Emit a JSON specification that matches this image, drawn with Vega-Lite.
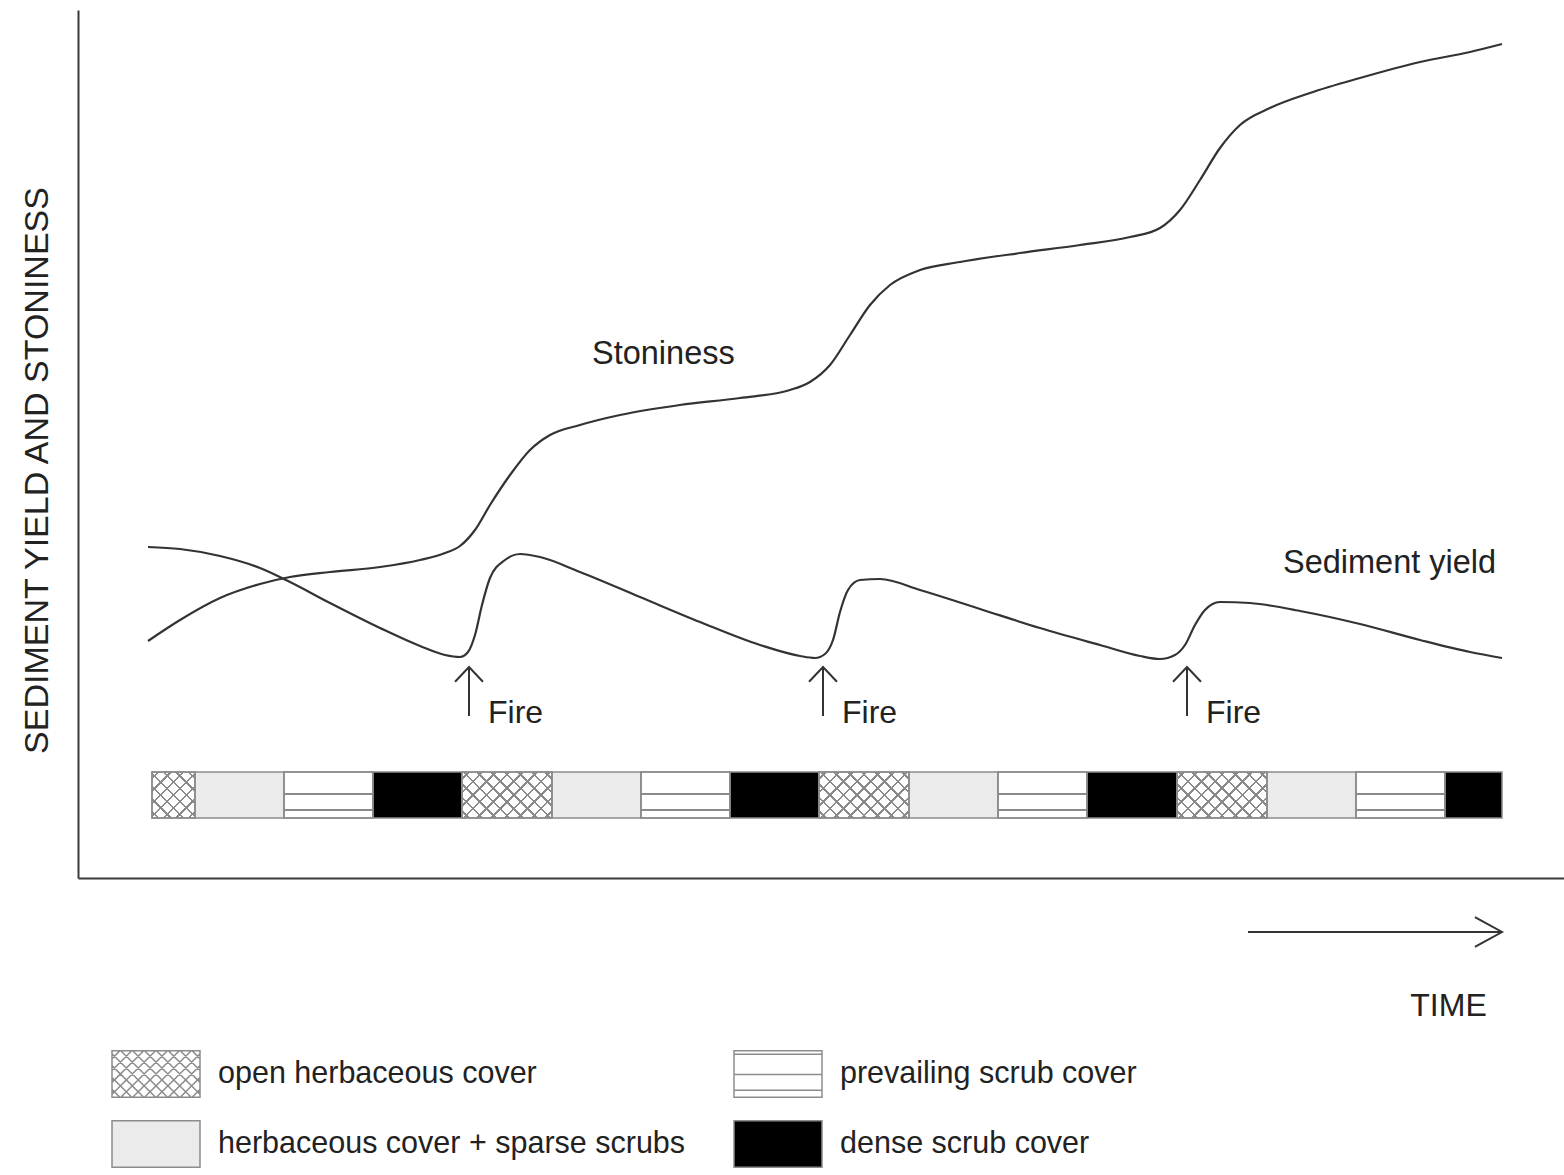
{
  "$schema": "https://vega.github.io/schema/vega-lite/v6.json",
  "width": 1486,
  "height": 868,
  "autosize": {"type": "none"},
  "padding": {"left": 78, "top": 10, "right": 0, "bottom": 297},
  "background": "white",
  "config": {
    "view": {"stroke": null},
    "axis": {"labels": false, "ticks": false, "grid": false, "domainColor": "#3a3a3a", "domainWidth": 2, "titleFont": "Liberation Sans", "titleFontWeight": "normal", "titleColor": "#222222"}
  },
  "datasets": {
    "curves": [
      {"t": 70, "value": 237, "series": "Stoniness"},
      {"t": 102, "value": 258, "series": "Stoniness"},
      {"t": 142, "value": 280, "series": "Stoniness"},
      {"t": 182, "value": 294, "series": "Stoniness"},
      {"t": 212, "value": 301, "series": "Stoniness"},
      {"t": 252, "value": 306, "series": "Stoniness"},
      {"t": 302, "value": 311, "series": "Stoniness"},
      {"t": 342, "value": 318, "series": "Stoniness"},
      {"t": 367, "value": 325, "series": "Stoniness"},
      {"t": 382, "value": 332, "series": "Stoniness"},
      {"t": 397, "value": 348, "series": "Stoniness"},
      {"t": 412, "value": 373, "series": "Stoniness"},
      {"t": 432, "value": 403, "series": "Stoniness"},
      {"t": 452, "value": 428, "series": "Stoniness"},
      {"t": 472, "value": 443, "series": "Stoniness"},
      {"t": 502, "value": 453, "series": "Stoniness"},
      {"t": 542, "value": 463, "series": "Stoniness"},
      {"t": 602, "value": 473, "series": "Stoniness"},
      {"t": 662, "value": 480, "series": "Stoniness"},
      {"t": 712, "value": 488, "series": "Stoniness"},
      {"t": 732, "value": 496, "series": "Stoniness"},
      {"t": 752, "value": 513, "series": "Stoniness"},
      {"t": 772, "value": 543, "series": "Stoniness"},
      {"t": 792, "value": 573, "series": "Stoniness"},
      {"t": 812, "value": 593, "series": "Stoniness"},
      {"t": 842, "value": 608, "series": "Stoniness"},
      {"t": 882, "value": 616, "series": "Stoniness"},
      {"t": 942, "value": 625, "series": "Stoniness"},
      {"t": 1002, "value": 633, "series": "Stoniness"},
      {"t": 1052, "value": 641, "series": "Stoniness"},
      {"t": 1082, "value": 650, "series": "Stoniness"},
      {"t": 1102, "value": 668, "series": "Stoniness"},
      {"t": 1122, "value": 698, "series": "Stoniness"},
      {"t": 1142, "value": 730, "series": "Stoniness"},
      {"t": 1162, "value": 753, "series": "Stoniness"},
      {"t": 1192, "value": 770, "series": "Stoniness"},
      {"t": 1232, "value": 785, "series": "Stoniness"},
      {"t": 1282, "value": 800, "series": "Stoniness"},
      {"t": 1342, "value": 816, "series": "Stoniness"},
      {"t": 1392, "value": 826, "series": "Stoniness"},
      {"t": 1424, "value": 834, "series": "Stoniness"},
      {"t": 70, "value": 331, "series": "Sediment yield"},
      {"t": 102, "value": 329, "series": "Sediment yield"},
      {"t": 142, "value": 322, "series": "Sediment yield"},
      {"t": 182, "value": 310, "series": "Sediment yield"},
      {"t": 212, "value": 296, "series": "Sediment yield"},
      {"t": 252, "value": 275, "series": "Sediment yield"},
      {"t": 302, "value": 250, "series": "Sediment yield"},
      {"t": 342, "value": 232, "series": "Sediment yield"},
      {"t": 367, "value": 223, "series": "Sediment yield"},
      {"t": 382, "value": 221, "series": "Sediment yield"},
      {"t": 390, "value": 226, "series": "Sediment yield"},
      {"t": 397, "value": 243, "series": "Sediment yield"},
      {"t": 404, "value": 273, "series": "Sediment yield"},
      {"t": 412, "value": 300, "series": "Sediment yield"},
      {"t": 427, "value": 318, "series": "Sediment yield"},
      {"t": 442, "value": 324, "series": "Sediment yield"},
      {"t": 462, "value": 321, "series": "Sediment yield"},
      {"t": 502, "value": 306, "series": "Sediment yield"},
      {"t": 562, "value": 281, "series": "Sediment yield"},
      {"t": 622, "value": 256, "series": "Sediment yield"},
      {"t": 682, "value": 233, "series": "Sediment yield"},
      {"t": 722, "value": 222, "series": "Sediment yield"},
      {"t": 737, "value": 220, "series": "Sediment yield"},
      {"t": 747, "value": 224, "series": "Sediment yield"},
      {"t": 755, "value": 238, "series": "Sediment yield"},
      {"t": 762, "value": 266, "series": "Sediment yield"},
      {"t": 770, "value": 288, "series": "Sediment yield"},
      {"t": 782, "value": 298, "series": "Sediment yield"},
      {"t": 802, "value": 299, "series": "Sediment yield"},
      {"t": 842, "value": 288, "series": "Sediment yield"},
      {"t": 902, "value": 269, "series": "Sediment yield"},
      {"t": 962, "value": 250, "series": "Sediment yield"},
      {"t": 1022, "value": 233, "series": "Sediment yield"},
      {"t": 1062, "value": 222, "series": "Sediment yield"},
      {"t": 1082, "value": 219, "series": "Sediment yield"},
      {"t": 1097, "value": 223, "series": "Sediment yield"},
      {"t": 1107, "value": 233, "series": "Sediment yield"},
      {"t": 1117, "value": 253, "series": "Sediment yield"},
      {"t": 1127, "value": 268, "series": "Sediment yield"},
      {"t": 1142, "value": 276, "series": "Sediment yield"},
      {"t": 1172, "value": 275, "series": "Sediment yield"},
      {"t": 1222, "value": 267, "series": "Sediment yield"},
      {"t": 1282, "value": 254, "series": "Sediment yield"},
      {"t": 1342, "value": 238, "series": "Sediment yield"},
      {"t": 1392, "value": 226, "series": "Sediment yield"},
      {"t": 1424, "value": 220, "series": "Sediment yield"}
    ],
    "strip": [
      {"start": 74, "end": 117, "cover": "open herbaceous cover"},
      {"start": 117, "end": 206, "cover": "herbaceous cover + sparse scrubs"},
      {"start": 206, "end": 295, "cover": "prevailing scrub cover"},
      {"start": 295, "end": 384, "cover": "dense scrub cover"},
      {"start": 384, "end": 474, "cover": "open herbaceous cover"},
      {"start": 474, "end": 563, "cover": "herbaceous cover + sparse scrubs"},
      {"start": 563, "end": 652, "cover": "prevailing scrub cover"},
      {"start": 652, "end": 741, "cover": "dense scrub cover"},
      {"start": 741, "end": 831, "cover": "open herbaceous cover"},
      {"start": 831, "end": 920, "cover": "herbaceous cover + sparse scrubs"},
      {"start": 920, "end": 1009, "cover": "prevailing scrub cover"},
      {"start": 1009, "end": 1099, "cover": "dense scrub cover"},
      {"start": 1099, "end": 1189, "cover": "open herbaceous cover"},
      {"start": 1189, "end": 1278, "cover": "herbaceous cover + sparse scrubs"},
      {"start": 1278, "end": 1367, "cover": "prevailing scrub cover"},
      {"start": 1367, "end": 1424, "cover": "dense scrub cover"}
    ],
    "fires": [
      {"time": 391, "event": "Fire"},
      {"time": 745, "event": "Fire"},
      {"time": 1109, "event": "Fire"}
    ]
  },
  "layer": [
    {
      "data": {"name": "strip"},
      "mark": {"type": "rect", "stroke": "#8c8c8c", "strokeWidth": 1.5},
      "encoding": {
        "x": {"field": "start", "type": "quantitative", "scale": {"domain": [0, 1486], "nice": false, "zero": false}, "axis": {"title": "TIME", "titleFontSize": 32, "titleX": 1370, "titleY": 137, "titleAlign": "center", "titleBaseline": "alphabetic"}},
        "x2": {"field": "end"},
        "y": {"datum": 60, "type": "quantitative", "scale": {"domain": [0, 868], "nice": false, "zero": false}, "axis": {"title": "SEDIMENT YIELD AND STONINESS", "titleFontSize": 34, "titleX": -31, "titleY": 460, "titleAngle": -90, "titleAlign": "center", "titleBaseline": "alphabetic"}},
        "y2": {"datum": 106},
        "fill": {
          "field": "cover", "type": "nominal",
          "scale": {"domain": ["open herbaceous cover", "herbaceous cover + sparse scrubs", "prevailing scrub cover", "dense scrub cover"], "range": ["#ffffff", "#ebebeb", "#ffffff", "#000000"]},
          "legend": {"title": null, "orient": "none", "legendX": 33, "legendY": 1039, "columns": 2, "columnPadding": 47, "rowPadding": 20, "clipHeight": 50, "symbolSize": 7744, "symbolStrokeColor": "#8c8c8c", "symbolStrokeWidth": 1.5, "symbolOpacity": 1, "labelFont": "Liberation Sans", "labelFontSize": 30.5, "labelColor": "#222222", "labelOffset": 17, "labelLimit": 1000, "padding": 0}
        }
      }
    },
    {
      "data": {"name": "strip"},
      "transform": [{"filter": "datum.cover == 'prevailing scrub cover'"}],
      "mark": {"type": "rect", "stroke": "#8c8c8c", "strokeWidth": 1.5,
        "fill": {"gradient": "linear", "x1": 0, "y1": 0, "x2": 0, "y2": 1, "stops": [
          {"offset": 0, "color": "rgba(255,255,255,0)"},
          {"offset": 0.456, "color": "rgba(255,255,255,0)"}, {"offset": 0.456, "color": "#8a8a8a"}, {"offset": 0.5, "color": "#8a8a8a"}, {"offset": 0.5, "color": "rgba(255,255,255,0)"},
          {"offset": 0.804, "color": "rgba(255,255,255,0)"}, {"offset": 0.804, "color": "#8a8a8a"}, {"offset": 0.848, "color": "#8a8a8a"}, {"offset": 0.848, "color": "rgba(255,255,255,0)"},
          {"offset": 1, "color": "rgba(255,255,255,0)"}
        ]}},
      "encoding": {"x": {"field": "start", "type": "quantitative"}, "x2": {"field": "end"}, "y": {"datum": 60}, "y2": {"datum": 106}}
    },
    {
      "data": {"name": "strip"},
      "transform": [{"filter": "datum.cover == 'open herbaceous cover' && datum.end - datum.start > 60"}],
      "mark": {"type": "rect", "strokeWidth": 0,
        "fill": {"gradient": "linear", "x1": 0, "y1": 0, "x2": 1.198, "y2": 0.612, "stops": [
          {"offset": 0, "color": "rgba(255,255,255,0)"},
          {"offset": 0.041, "color": "rgba(255,255,255,0)"}, {"offset": 0.041, "color": "#8a8a8a"}, {"offset": 0.059, "color": "#8a8a8a"}, {"offset": 0.059, "color": "rgba(255,255,255,0)"},
          {"offset": 0.141, "color": "rgba(255,255,255,0)"}, {"offset": 0.141, "color": "#8a8a8a"}, {"offset": 0.159, "color": "#8a8a8a"}, {"offset": 0.159, "color": "rgba(255,255,255,0)"},
          {"offset": 0.241, "color": "rgba(255,255,255,0)"}, {"offset": 0.241, "color": "#8a8a8a"}, {"offset": 0.259, "color": "#8a8a8a"}, {"offset": 0.259, "color": "rgba(255,255,255,0)"},
          {"offset": 0.341, "color": "rgba(255,255,255,0)"}, {"offset": 0.341, "color": "#8a8a8a"}, {"offset": 0.359, "color": "#8a8a8a"}, {"offset": 0.359, "color": "rgba(255,255,255,0)"},
          {"offset": 0.441, "color": "rgba(255,255,255,0)"}, {"offset": 0.441, "color": "#8a8a8a"}, {"offset": 0.459, "color": "#8a8a8a"}, {"offset": 0.459, "color": "rgba(255,255,255,0)"},
          {"offset": 0.541, "color": "rgba(255,255,255,0)"}, {"offset": 0.541, "color": "#8a8a8a"}, {"offset": 0.559, "color": "#8a8a8a"}, {"offset": 0.559, "color": "rgba(255,255,255,0)"},
          {"offset": 0.641, "color": "rgba(255,255,255,0)"}, {"offset": 0.641, "color": "#8a8a8a"}, {"offset": 0.659, "color": "#8a8a8a"}, {"offset": 0.659, "color": "rgba(255,255,255,0)"},
          {"offset": 0.741, "color": "rgba(255,255,255,0)"}, {"offset": 0.741, "color": "#8a8a8a"}, {"offset": 0.759, "color": "#8a8a8a"}, {"offset": 0.759, "color": "rgba(255,255,255,0)"},
          {"offset": 0.841, "color": "rgba(255,255,255,0)"}, {"offset": 0.841, "color": "#8a8a8a"}, {"offset": 0.859, "color": "#8a8a8a"}, {"offset": 0.859, "color": "rgba(255,255,255,0)"},
          {"offset": 0.941, "color": "rgba(255,255,255,0)"}, {"offset": 0.941, "color": "#8a8a8a"}, {"offset": 0.959, "color": "#8a8a8a"}, {"offset": 0.959, "color": "rgba(255,255,255,0)"},
          {"offset": 1, "color": "rgba(255,255,255,0)"}
        ]}},
      "encoding": {"x": {"field": "start", "type": "quantitative"}, "x2": {"field": "end"}, "y": {"datum": 60}, "y2": {"datum": 106}}
    },
    {
      "data": {"name": "strip"},
      "transform": [{"filter": "datum.cover == 'open herbaceous cover' && datum.end - datum.start > 60"}],
      "mark": {"type": "rect", "stroke": "#8c8c8c", "strokeWidth": 1.5,
        "fill": {"gradient": "linear", "x1": 0, "y1": 1, "x2": 1.198, "y2": 0.388, "stops": [
          {"offset": 0, "color": "rgba(255,255,255,0)"},
          {"offset": 0.041, "color": "rgba(255,255,255,0)"}, {"offset": 0.041, "color": "#8a8a8a"}, {"offset": 0.059, "color": "#8a8a8a"}, {"offset": 0.059, "color": "rgba(255,255,255,0)"},
          {"offset": 0.141, "color": "rgba(255,255,255,0)"}, {"offset": 0.141, "color": "#8a8a8a"}, {"offset": 0.159, "color": "#8a8a8a"}, {"offset": 0.159, "color": "rgba(255,255,255,0)"},
          {"offset": 0.241, "color": "rgba(255,255,255,0)"}, {"offset": 0.241, "color": "#8a8a8a"}, {"offset": 0.259, "color": "#8a8a8a"}, {"offset": 0.259, "color": "rgba(255,255,255,0)"},
          {"offset": 0.341, "color": "rgba(255,255,255,0)"}, {"offset": 0.341, "color": "#8a8a8a"}, {"offset": 0.359, "color": "#8a8a8a"}, {"offset": 0.359, "color": "rgba(255,255,255,0)"},
          {"offset": 0.441, "color": "rgba(255,255,255,0)"}, {"offset": 0.441, "color": "#8a8a8a"}, {"offset": 0.459, "color": "#8a8a8a"}, {"offset": 0.459, "color": "rgba(255,255,255,0)"},
          {"offset": 0.541, "color": "rgba(255,255,255,0)"}, {"offset": 0.541, "color": "#8a8a8a"}, {"offset": 0.559, "color": "#8a8a8a"}, {"offset": 0.559, "color": "rgba(255,255,255,0)"},
          {"offset": 0.641, "color": "rgba(255,255,255,0)"}, {"offset": 0.641, "color": "#8a8a8a"}, {"offset": 0.659, "color": "#8a8a8a"}, {"offset": 0.659, "color": "rgba(255,255,255,0)"},
          {"offset": 0.741, "color": "rgba(255,255,255,0)"}, {"offset": 0.741, "color": "#8a8a8a"}, {"offset": 0.759, "color": "#8a8a8a"}, {"offset": 0.759, "color": "rgba(255,255,255,0)"},
          {"offset": 0.841, "color": "rgba(255,255,255,0)"}, {"offset": 0.841, "color": "#8a8a8a"}, {"offset": 0.859, "color": "#8a8a8a"}, {"offset": 0.859, "color": "rgba(255,255,255,0)"},
          {"offset": 0.941, "color": "rgba(255,255,255,0)"}, {"offset": 0.941, "color": "#8a8a8a"}, {"offset": 0.959, "color": "#8a8a8a"}, {"offset": 0.959, "color": "rgba(255,255,255,0)"},
          {"offset": 1, "color": "rgba(255,255,255,0)"}
        ]}},
      "encoding": {"x": {"field": "start", "type": "quantitative"}, "x2": {"field": "end"}, "y": {"datum": 60}, "y2": {"datum": 106}}
    },
    {
      "data": {"name": "strip"},
      "transform": [{"filter": "datum.cover == 'open herbaceous cover' && datum.end - datum.start <= 60"}],
      "mark": {"type": "rect", "strokeWidth": 0,
        "fill": {"gradient": "linear", "x1": 0, "y1": 0, "x2": 0.965, "y2": 1.033, "stops": [
          {"offset": 0, "color": "rgba(255,255,255,0)"},
          {"offset": 0.058, "color": "rgba(255,255,255,0)"}, {"offset": 0.058, "color": "#8a8a8a"}, {"offset": 0.084, "color": "#8a8a8a"}, {"offset": 0.084, "color": "rgba(255,255,255,0)"},
          {"offset": 0.201, "color": "rgba(255,255,255,0)"}, {"offset": 0.201, "color": "#8a8a8a"}, {"offset": 0.227, "color": "#8a8a8a"}, {"offset": 0.227, "color": "rgba(255,255,255,0)"},
          {"offset": 0.344, "color": "rgba(255,255,255,0)"}, {"offset": 0.344, "color": "#8a8a8a"}, {"offset": 0.37, "color": "#8a8a8a"}, {"offset": 0.37, "color": "rgba(255,255,255,0)"},
          {"offset": 0.487, "color": "rgba(255,255,255,0)"}, {"offset": 0.487, "color": "#8a8a8a"}, {"offset": 0.513, "color": "#8a8a8a"}, {"offset": 0.513, "color": "rgba(255,255,255,0)"},
          {"offset": 0.63, "color": "rgba(255,255,255,0)"}, {"offset": 0.63, "color": "#8a8a8a"}, {"offset": 0.656, "color": "#8a8a8a"}, {"offset": 0.656, "color": "rgba(255,255,255,0)"},
          {"offset": 0.773, "color": "rgba(255,255,255,0)"}, {"offset": 0.773, "color": "#8a8a8a"}, {"offset": 0.799, "color": "#8a8a8a"}, {"offset": 0.799, "color": "rgba(255,255,255,0)"},
          {"offset": 0.916, "color": "rgba(255,255,255,0)"}, {"offset": 0.916, "color": "#8a8a8a"}, {"offset": 0.942, "color": "#8a8a8a"}, {"offset": 0.942, "color": "rgba(255,255,255,0)"},
          {"offset": 1, "color": "rgba(255,255,255,0)"}
        ]}},
      "encoding": {"x": {"field": "start", "type": "quantitative"}, "x2": {"field": "end"}, "y": {"datum": 60}, "y2": {"datum": 106}}
    },
    {
      "data": {"name": "strip"},
      "transform": [{"filter": "datum.cover == 'open herbaceous cover' && datum.end - datum.start <= 60"}],
      "mark": {"type": "rect", "stroke": "#8c8c8c", "strokeWidth": 1.5,
        "fill": {"gradient": "linear", "x1": 0, "y1": 1, "x2": 0.965, "y2": -0.033, "stops": [
          {"offset": 0, "color": "rgba(255,255,255,0)"},
          {"offset": 0.058, "color": "rgba(255,255,255,0)"}, {"offset": 0.058, "color": "#8a8a8a"}, {"offset": 0.084, "color": "#8a8a8a"}, {"offset": 0.084, "color": "rgba(255,255,255,0)"},
          {"offset": 0.201, "color": "rgba(255,255,255,0)"}, {"offset": 0.201, "color": "#8a8a8a"}, {"offset": 0.227, "color": "#8a8a8a"}, {"offset": 0.227, "color": "rgba(255,255,255,0)"},
          {"offset": 0.344, "color": "rgba(255,255,255,0)"}, {"offset": 0.344, "color": "#8a8a8a"}, {"offset": 0.37, "color": "#8a8a8a"}, {"offset": 0.37, "color": "rgba(255,255,255,0)"},
          {"offset": 0.487, "color": "rgba(255,255,255,0)"}, {"offset": 0.487, "color": "#8a8a8a"}, {"offset": 0.513, "color": "#8a8a8a"}, {"offset": 0.513, "color": "rgba(255,255,255,0)"},
          {"offset": 0.63, "color": "rgba(255,255,255,0)"}, {"offset": 0.63, "color": "#8a8a8a"}, {"offset": 0.656, "color": "#8a8a8a"}, {"offset": 0.656, "color": "rgba(255,255,255,0)"},
          {"offset": 0.773, "color": "rgba(255,255,255,0)"}, {"offset": 0.773, "color": "#8a8a8a"}, {"offset": 0.799, "color": "#8a8a8a"}, {"offset": 0.799, "color": "rgba(255,255,255,0)"},
          {"offset": 0.916, "color": "rgba(255,255,255,0)"}, {"offset": 0.916, "color": "#8a8a8a"}, {"offset": 0.942, "color": "#8a8a8a"}, {"offset": 0.942, "color": "rgba(255,255,255,0)"},
          {"offset": 1, "color": "rgba(255,255,255,0)"}
        ]}},
      "encoding": {"x": {"field": "start", "type": "quantitative"}, "x2": {"field": "end"}, "y": {"datum": 60}, "y2": {"datum": 106}}
    },
    {
      "data": {"name": "curves"},
      "mark": {"type": "line", "interpolate": "monotone", "color": "#333333", "strokeWidth": 2.2},
      "encoding": {
        "x": {"field": "t", "type": "quantitative"},
        "y": {"field": "value", "type": "quantitative"},
        "detail": {"field": "series", "type": "nominal"}
      }
    },
    {
      "data": {"name": "fires"},
      "mark": {"type": "point", "shape": "M0,-1V1M-0.57,-0.4L0,-1L0.57,-0.4", "size": 2401, "filled": false, "color": "#333333", "strokeWidth": 2, "opacity": 1},
      "encoding": {"x": {"field": "time", "type": "quantitative"}, "y": {"datum": 186.5}}
    },
    {
      "data": {"name": "fires"},
      "mark": {"type": "text", "align": "left", "baseline": "alphabetic", "dx": 19, "font": "Liberation Sans", "fontSize": 32, "color": "#222222"},
      "encoding": {"x": {"field": "time", "type": "quantitative"}, "y": {"datum": 155}, "text": {"field": "event"}}
    },
    {
      "data": {"values": [{"label": "Stoniness"}]},
      "mark": {"type": "text", "align": "left", "baseline": "alphabetic", "font": "Liberation Sans", "fontSize": 32.5, "color": "#222222"},
      "encoding": {"x": {"datum": 514}, "y": {"datum": 514}, "text": {"field": "label"}}
    },
    {
      "data": {"values": [{"label": "Sediment yield"}]},
      "mark": {"type": "text", "align": "left", "baseline": "alphabetic", "font": "Liberation Sans", "fontSize": 32.5, "color": "#222222"},
      "encoding": {"x": {"datum": 1205}, "y": {"datum": 305}, "text": {"field": "label"}}
    },
    {
      "data": {"values": [{"direction": "time"}]},
      "mark": {"type": "point", "shape": "M-1,0H1M0.787,-0.118L1,0L0.787,0.118", "size": 64516, "filled": false, "color": "#333333", "strokeWidth": 2, "opacity": 1},
      "encoding": {"x": {"datum": 1297}, "y": {"datum": -54}}
    },
    {
      "data": {"name": "strip"},
      "transform": [{"filter": "false"}],
      "mark": {"type": "point", "filled": true, "opacity": 1, "strokeWidth": 1.5},
      "encoding": {
        "x": {"field": "start", "type": "quantitative"},
        "y": {"datum": 60},
        "fill": {
          "field": "cover", "type": "nominal",
          "scale": {"domain": ["open herbaceous cover", "herbaceous cover + sparse scrubs", "prevailing scrub cover", "dense scrub cover"], "range": ["#ffffff", "#ebebeb", "#ffffff", "#000000"]},
          "legend": {"title": null, "orient": "none", "legendX": 33, "legendY": 1039, "columns": 2, "columnPadding": 47, "rowPadding": 20, "clipHeight": 50, "symbolSize": 7744, "symbolStrokeColor": "#8c8c8c", "symbolStrokeWidth": 1.5, "symbolOpacity": 1, "labelFont": "Liberation Sans", "labelFontSize": 30.5, "labelColor": "#222222", "labelOffset": 17, "labelLimit": 1000, "padding": 0}
        },
        "stroke": {
          "field": "cover", "type": "nominal",
          "scale": {"domain": ["open herbaceous cover", "herbaceous cover + sparse scrubs", "prevailing scrub cover", "dense scrub cover"], "range": ["#8c8c8c", "#8c8c8c", "#8c8c8c", "#8c8c8c"]},
          "legend": {"title": null, "orient": "none", "legendX": 33, "legendY": 1039, "columns": 2, "columnPadding": 47, "rowPadding": 20, "clipHeight": 50, "symbolSize": 7744, "symbolStrokeColor": "#8c8c8c", "symbolStrokeWidth": 1.5, "symbolOpacity": 1, "labelFont": "Liberation Sans", "labelFontSize": 30.5, "labelColor": "#222222", "labelOffset": 17, "labelLimit": 1000, "padding": 0}
        },
        "shape": {
          "field": "cover", "type": "nominal",
          "scale": {"domain": ["open herbaceous cover", "herbaceous cover + sparse scrubs", "prevailing scrub cover", "dense scrub cover"], "range": [
            "M-1,-0.53H1V0.53H-1ZM-1,0.35L-0.82,0.53M-1,0.08L-0.55,0.53M-1,-0.19L-0.28,0.53M-1,-0.46L-0.01,0.53M-0.8,-0.53L0.26,0.53M-0.53,-0.53L0.53,0.53M-0.26,-0.53L0.8,0.53M0.01,-0.53L1,0.46M0.28,-0.53L1,0.19M0.55,-0.53L1,-0.08M0.82,-0.53L1,-0.35M-0.82,-0.53L-1,-0.35M-0.55,-0.53L-1,-0.08M-0.28,-0.53L-1,0.19M-0.01,-0.53L-1,0.46M0.26,-0.53L-0.8,0.53M0.53,-0.53L-0.53,0.53M0.8,-0.53L-0.26,0.53M1,-0.46L0.01,0.53M1,-0.19L0.28,0.53M1,0.08L0.55,0.53M1,0.35L0.82,0.53",
            "M-1,-0.53H1V0.53H-1Z",
            "M-1,-0.53H1V0.53H-1ZM-1,-0.45H1M-1,0.01H1M-1,0.37H1",
            "M-1,-0.53H1V0.53H-1Z"
          ]},
          "legend": {"title": null, "orient": "none", "legendX": 33, "legendY": 1039, "columns": 2, "columnPadding": 47, "rowPadding": 20, "clipHeight": 50, "symbolSize": 7744, "symbolStrokeColor": "#8c8c8c", "symbolStrokeWidth": 1.5, "symbolOpacity": 1, "labelFont": "Liberation Sans", "labelFontSize": 30.5, "labelColor": "#222222", "labelOffset": 17, "labelLimit": 1000, "padding": 0}
        }
      }
    }
  ]
}
